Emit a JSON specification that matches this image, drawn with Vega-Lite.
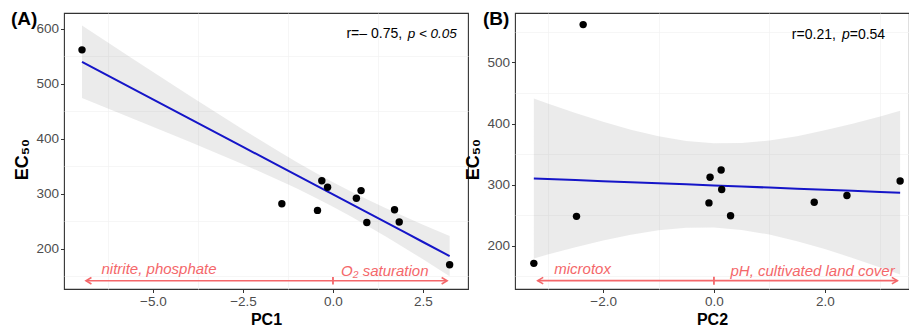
{
  "$schema": "https://vega.github.io/schema/vega-lite/v6.json",
  "padding": {"left": 10, "top": 9, "right": 0, "bottom": 4},
  "background": "white",
  "spacing": 47,
  "bounds": "flush",
  "config": {
    "font": "Liberation Sans",
    "view": {"stroke": "#333333", "strokeWidth": 1.1},
    "axis": {
      "domain": false,
      "grid": true,
      "gridColor": "#EBEBEB",
      "gridWidth": 1.3,
      "labelFont": "Liberation Sans",
      "labelFontSize": 13.5,
      "labelColor": "#4D4D4D",
      "labelPadding": 2,
      "labelOverlap": false,
      "tickColor": "#333333",
      "tickSize": 3.5,
      "titleFont": "Liberation Sans",
      "titleFontWeight": "bold",
      "titleColor": "#000000",
      "titleFontSize": 16
    },
    "title": {"font": "Liberation Sans", "fontSize": 19, "fontWeight": "bold", "color": "#000000"}
  },
  "datasets": {
    "pts": [
      {"pc1": -6.97, "pc2": -2.36, "ec50": 562},
      {"pc1": 3.24, "pc2": -3.25, "ec50": 171},
      {"pc1": -1.42, "pc2": 2.40, "ec50": 282},
      {"pc1": -0.31, "pc2": 0.13, "ec50": 324},
      {"pc1": -0.15, "pc2": -0.07, "ec50": 312},
      {"pc1": 0.65, "pc2": 0.14, "ec50": 292},
      {"pc1": 0.78, "pc2": 3.36, "ec50": 306},
      {"pc1": 0.94, "pc2": -2.48, "ec50": 248},
      {"pc1": 1.84, "pc2": 0.30, "ec50": 249},
      {"pc1": -0.43, "pc2": -0.09, "ec50": 270},
      {"pc1": 1.71, "pc2": 1.81, "ec50": 271}
    ],
    "bandA": [
      {"x": -6.97, "lo": 474.2, "hi": 606.2, "fit": 540.2},
      {"x": -5.5, "lo": 435.4, "hi": 543.2, "fit": 489.3},
      {"x": -4, "lo": 395.4, "hi": 479.4, "fit": 437.4},
      {"x": -2.5, "lo": 354.0, "hi": 417.0, "fit": 385.5},
      {"x": -1.5, "lo": 324.9, "hi": 376.9, "fit": 350.9},
      {"x": -1, "lo": 309.6, "hi": 357.6, "fit": 333.6},
      {"x": -0.5, "lo": 293.5, "hi": 339.1, "fit": 316.3},
      {"x": 0, "lo": 276.7, "hi": 321.3, "fit": 299.0},
      {"x": 0.5, "lo": 258.9, "hi": 304.5, "fit": 281.7},
      {"x": 1, "lo": 240.4, "hi": 288.4, "fit": 264.4},
      {"x": 1.5, "lo": 221.1, "hi": 273.1, "fit": 247.1},
      {"x": 2, "lo": 201.2, "hi": 258.4, "fit": 229.8},
      {"x": 2.5, "lo": 181.0, "hi": 244.0, "fit": 212.5},
      {"x": 3.24, "lo": 150.4, "hi": 223.4, "fit": 186.9}
    ],
    "bandB": [
      {"x": -3.25, "lo": 179.1, "hi": 440.9, "fit": 310.0},
      {"x": -3, "lo": 185.5, "hi": 432.9, "fit": 309.2},
      {"x": -2.5, "lo": 197.5, "hi": 417.3, "fit": 307.4},
      {"x": -2, "lo": 208.4, "hi": 402.8, "fit": 305.6},
      {"x": -1.5, "lo": 217.9, "hi": 389.9, "fit": 303.9},
      {"x": -1, "lo": 225.1, "hi": 379.1, "fit": 302.1},
      {"x": -0.5, "lo": 229.3, "hi": 371.5, "fit": 300.4},
      {"x": 0, "lo": 229.6, "hi": 367.6, "fit": 298.6},
      {"x": 0.5, "lo": 225.7, "hi": 367.9, "fit": 296.8},
      {"x": 1, "lo": 218.1, "hi": 372.1, "fit": 295.1},
      {"x": 1.5, "lo": 207.3, "hi": 379.3, "fit": 293.3},
      {"x": 2, "lo": 194.4, "hi": 388.8, "fit": 291.6},
      {"x": 2.5, "lo": 179.9, "hi": 399.7, "fit": 289.8},
      {"x": 3, "lo": 164.3, "hi": 411.7, "fit": 288.0},
      {"x": 3.36, "lo": 152.7, "hi": 420.9, "fit": 286.8}
    ],
    "one": [{}]
  },
  "hconcat": [
    {
      "width": 404,
      "height": 276,
      "title": {"text": "(A)", "anchor": "start", "frame": "group", "orient": "top", "offset": -16, "dx": -53},
      "resolve": {"axis": {"x": "independent", "y": "independent"}},
      "layer": [
        {
          "data": {"name": "bandA"},
          "mark": {"type": "line", "opacity": 0},
          "encoding": {
            "x": {
              "field": "x", "type": "quantitative",
              "scale": {"domain": [-7.47, 3.75], "nice": false, "zero": false},
              "axis": {"orient": "bottom", "values": [-6.25, -3.75, -1.25, 1.25], "labels": false, "ticks": false, "title": null, "gridColor": "#F2F2F2", "gridWidth": 0.7}
            },
            "y": {
              "field": "fit", "type": "quantitative",
              "scale": {"domain": [127, 629], "nice": false, "zero": false},
              "axis": {"orient": "left", "values": [150, 250, 350, 450, 550], "labels": false, "ticks": false, "title": null, "gridColor": "#F2F2F2", "gridWidth": 0.7}
            }
          }
        },
        {
          "data": {"name": "bandA"},
          "mark": {"type": "area", "color": "#999999", "opacity": 0.2},
          "encoding": {
            "x": {
              "field": "x", "type": "quantitative",
              "axis": {"orient": "bottom", "title": "PC1", "titlePadding": 3, "values": [-5, -2.5, 0, 2.5], "format": ".1f"}
            },
            "y": {
              "field": "lo", "type": "quantitative",
              "axis": {"orient": "left", "title": "EC₅₀", "titleFontSize": 18, "titlePadding": 4, "titleY": 146, "values": [200, 300, 400, 500, 600]}
            },
            "y2": {"field": "hi"}
          }
        },
        {
          "data": {"name": "bandA"},
          "mark": {"type": "line", "color": "#1515C8", "strokeWidth": 2},
          "encoding": {
            "x": {"field": "x", "type": "quantitative", "axis": null},
            "y": {"field": "fit", "type": "quantitative", "axis": null}
          }
        },
        {
          "data": {"name": "pts"},
          "mark": {"type": "circle", "color": "#000000", "opacity": 1, "size": 55},
          "encoding": {
            "x": {"field": "pc1", "type": "quantitative", "axis": null},
            "y": {"field": "ec50", "type": "quantitative", "axis": null}
          }
        },
        {
          "data": {"name": "one"},
          "mark": {"type": "rule", "color": "#F4676A", "strokeWidth": 1.6},
          "encoding": {"x": {"datum": -6.86, "axis": null}, "x2": {"datum": 3.17}, "y": {"datum": 142, "axis": null}}
        },
        {
          "data": {"name": "one"},
          "mark": {"type": "rule", "color": "#F4676A", "strokeWidth": 1.8},
          "encoding": {"x": {"datum": 0, "axis": null}, "y": {"datum": 135, "axis": null}, "y2": {"datum": 149}}
        },
        {
          "data": {"name": "one"},
          "mark": {"type": "point", "shape": "M2,-1.2L0,0L2,1.2", "filled": false, "size": 30, "color": "#F4676A", "strokeWidth": 1.6, "opacity": 1},
          "encoding": {"x": {"datum": -6.86, "axis": null}, "y": {"datum": 142, "axis": null}}
        },
        {
          "data": {"name": "one"},
          "mark": {"type": "point", "shape": "M-2,-1.2L0,0L-2,1.2", "filled": false, "size": 30, "color": "#F4676A", "strokeWidth": 1.6, "opacity": 1},
          "encoding": {"x": {"datum": 3.17, "axis": null}, "y": {"datum": 142, "axis": null}}
        },
        {
          "data": {"name": "one"},
          "mark": {"type": "text", "text": "nitrite, phosphate", "fontStyle": "italic", "fontSize": 15, "color": "#F4676A", "align": "center", "baseline": "middle"},
          "encoding": {"x": {"datum": -4.83, "axis": null}, "y": {"datum": 163, "axis": null}}
        },
        {
          "data": {"name": "one"},
          "mark": {"type": "text", "text": "O₂ saturation", "fontStyle": "italic", "fontSize": 15, "color": "#F4676A", "align": "center", "baseline": "middle"},
          "encoding": {"x": {"datum": 1.44, "axis": null}, "y": {"datum": 160, "axis": null}}
        },
        {
          "data": {"name": "one"},
          "mark": {"type": "text", "text": "r=– 0.75,", "fontSize": 14, "color": "#000000", "align": "right", "baseline": "middle"},
          "encoding": {"x": {"datum": 1.92, "axis": null}, "y": {"datum": 591, "axis": null}}
        },
        {
          "data": {"name": "one"},
          "mark": {"type": "text", "text": "p < 0.05", "fontStyle": "italic", "fontSize": 13.5, "color": "#000000", "align": "right", "baseline": "middle"},
          "encoding": {"x": {"datum": 3.44, "axis": null}, "y": {"datum": 591, "axis": null}}
        }
      ]
    },
    {
      "width": 394,
      "height": 276,
      "title": {"text": "(B)", "anchor": "start", "frame": "group", "orient": "top", "offset": -16, "dx": -32},
      "resolve": {"axis": {"x": "independent", "y": "independent"}},
      "layer": [
        {
          "data": {"name": "bandB"},
          "mark": {"type": "line", "opacity": 0},
          "encoding": {
            "x": {
              "field": "x", "type": "quantitative",
              "scale": {"domain": [-3.59, 3.52], "nice": false, "zero": false},
              "axis": {"orient": "bottom", "values": [-3, -1, 1, 3], "labels": false, "ticks": false, "title": null, "gridColor": "#F2F2F2", "gridWidth": 0.7}
            },
            "y": {
              "field": "fit", "type": "quantitative",
              "scale": {"domain": [129, 581], "nice": false, "zero": false},
              "axis": {"orient": "left", "values": [150, 250, 350, 450, 550], "labels": false, "ticks": false, "title": null, "gridColor": "#F2F2F2", "gridWidth": 0.7}
            }
          }
        },
        {
          "data": {"name": "bandB"},
          "mark": {"type": "area", "color": "#999999", "opacity": 0.2},
          "encoding": {
            "x": {
              "field": "x", "type": "quantitative",
              "axis": {"orient": "bottom", "title": "PC2", "titlePadding": 3, "values": [-2, 0, 2], "format": ".1f"}
            },
            "y": {
              "field": "lo", "type": "quantitative",
              "axis": {"orient": "left", "title": "EC₅₀", "titleFontSize": 18, "titlePadding": 4, "titleY": 146, "values": [200, 300, 400, 500]}
            },
            "y2": {"field": "hi"}
          }
        },
        {
          "data": {"name": "bandB"},
          "mark": {"type": "line", "color": "#1515C8", "strokeWidth": 2},
          "encoding": {
            "x": {"field": "x", "type": "quantitative", "axis": null},
            "y": {"field": "fit", "type": "quantitative", "axis": null}
          }
        },
        {
          "data": {"name": "pts"},
          "mark": {"type": "circle", "color": "#000000", "opacity": 1, "size": 55},
          "encoding": {
            "x": {"field": "pc2", "type": "quantitative", "axis": null},
            "y": {"field": "ec50", "type": "quantitative", "axis": null}
          }
        },
        {
          "data": {"name": "one"},
          "mark": {"type": "rule", "color": "#F4676A", "strokeWidth": 1.6},
          "encoding": {"x": {"datum": -3.18, "axis": null}, "x2": {"datum": 3.31}, "y": {"datum": 142.7, "axis": null}}
        },
        {
          "data": {"name": "one"},
          "mark": {"type": "rule", "color": "#F4676A", "strokeWidth": 1.8},
          "encoding": {"x": {"datum": 0, "axis": null}, "y": {"datum": 136, "axis": null}, "y2": {"datum": 149}}
        },
        {
          "data": {"name": "one"},
          "mark": {"type": "point", "shape": "M2,-1.2L0,0L2,1.2", "filled": false, "size": 30, "color": "#F4676A", "strokeWidth": 1.6, "opacity": 1},
          "encoding": {"x": {"datum": -3.18, "axis": null}, "y": {"datum": 142.7, "axis": null}}
        },
        {
          "data": {"name": "one"},
          "mark": {"type": "point", "shape": "M-2,-1.2L0,0L-2,1.2", "filled": false, "size": 30, "color": "#F4676A", "strokeWidth": 1.6, "opacity": 1},
          "encoding": {"x": {"datum": 3.31, "axis": null}, "y": {"datum": 142.7, "axis": null}}
        },
        {
          "data": {"name": "one"},
          "mark": {"type": "text", "text": "microtox", "fontStyle": "italic", "fontSize": 15, "color": "#F4676A", "align": "center", "baseline": "middle"},
          "encoding": {"x": {"datum": -2.37, "axis": null}, "y": {"datum": 162, "axis": null}}
        },
        {
          "data": {"name": "one"},
          "mark": {"type": "text", "text": "pH, cultivated land cover", "fontStyle": "italic", "fontSize": 15, "color": "#F4676A", "align": "center", "baseline": "middle"},
          "encoding": {"x": {"datum": 1.78, "axis": null}, "y": {"datum": 159, "axis": null}}
        },
        {
          "data": {"name": "one"},
          "mark": {"type": "text", "text": "r=0.21,", "fontSize": 14, "color": "#000000", "align": "right", "baseline": "middle"},
          "encoding": {"x": {"datum": 2.2, "axis": null}, "y": {"datum": 545, "axis": null}}
        },
        {
          "data": {"name": "one"},
          "mark": {"type": "text", "text": "p", "fontStyle": "italic", "fontSize": 14, "color": "#000000", "align": "left", "baseline": "middle"},
          "encoding": {"x": {"datum": 2.31, "axis": null}, "y": {"datum": 545, "axis": null}}
        },
        {
          "data": {"name": "one"},
          "mark": {"type": "text", "text": "=0.54", "fontSize": 14, "color": "#000000", "align": "left", "baseline": "middle"},
          "encoding": {"x": {"datum": 2.45, "axis": null}, "y": {"datum": 545, "axis": null}}
        }
      ]
    }
  ]
}
